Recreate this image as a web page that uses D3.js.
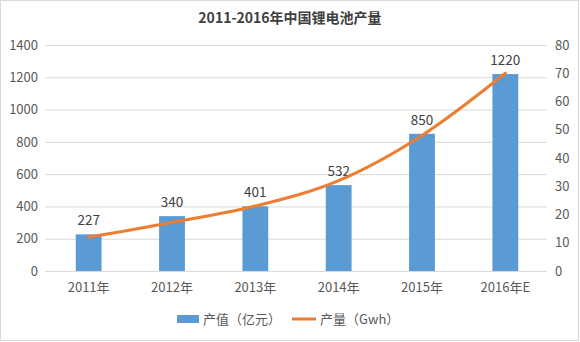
<!DOCTYPE html>
<html><head><meta charset="utf-8">
<script src="https://cdn.jsdelivr.net/npm/d3@7"></script>
<style>body{margin:0;background:#fff}svg{display:block}text{font-family:"Noto Sans CJK SC","Microsoft YaHei",sans-serif}</style>
</head><body><svg id="c" width="580" height="342"></svg>
<script>
const categories = ["2011年","2012年","2013年","2014年","2015年","2016年E"];
const valueSeries = [227, 340, 401, 532, 850, 1220];
const outputSeries = [12, 17.2, 23, 32, 48, 70];
const leftTicks = [0,200,400,600,800,1000,1200,1400];
const rightTicks = [0,10,20,30,40,50,60,70,80];
const titleText = "2011-2016年中国锂电池产量";
const legendLabels = ["产值（亿元）","产量（Gwh）"];

(function(){
const svg = d3.select("#c");
const W = 580, H = 342;
const pL = 45, pR = 547, pT = 45, pB = 271;
const txt = "#595959";

svg.append("rect").attr("x",0.5).attr("y",0.5).attr("width",W-2).attr("height",H-2)
  .attr("fill","#fff").attr("stroke","#d9d9d9");

const x = d3.scaleBand().domain(categories).range([47,547]).paddingInner(0.69).paddingOuter(0.345);
const y = d3.scaleLinear().domain([0,1400]).range([pB,pT]);
const y2 = d3.scaleLinear().domain([0,80]).range([pB,pT]);

svg.append("g").selectAll("line").data(leftTicks).join("line")
  .attr("x1",pL).attr("x2",pR).attr("y1",d=>y(d)+0.5).attr("y2",d=>y(d)+0.5)
  .attr("stroke","#d9d9d9").attr("stroke-width",1);

const la = svg.append("g").attr("transform",`translate(${pL},0)`)
  .call(d3.axisLeft(y).tickValues(leftTicks).tickFormat(d3.format("d")).tickSize(0).tickPadding(7));
la.select(".domain").remove();
la.selectAll("text").attr("fill",txt).attr("font-size",13);

const ra = svg.append("g").attr("transform",`translate(${pR},0)`)
  .call(d3.axisRight(y2).tickValues(rightTicks).tickFormat(d3.format("d")).tickSize(0).tickPadding(8));
ra.select(".domain").remove();
ra.selectAll("text").attr("fill",txt).attr("font-size",13);

const xa = svg.append("g").attr("transform",`translate(0,${pB})`)
  .call(d3.axisBottom(x).tickSize(0).tickPadding(12));
xa.select(".domain").remove();
xa.selectAll("text").attr("fill",txt).attr("font-size",13);

svg.append("g").selectAll("rect").data(valueSeries).join("rect")
  .attr("x",(d,i)=>x(categories[i])).attr("width",x.bandwidth())
  .attr("y",d=>y(d)).attr("height",d=>y(0)-y(d)).attr("fill","#5B9BD5");

svg.append("g").selectAll("text").data(valueSeries).join("text")
  .attr("x",(d,i)=>x(categories[i])+x.bandwidth()/2).attr("y",d=>y(d)-9)
  .attr("text-anchor","middle").attr("font-size",13.5).attr("fill","#404040").text(d=>d);

const line = d3.line().x((d,i)=>x(categories[i])+x.bandwidth()/2).y(d=>y2(d)).curve(d3.curveMonotoneX);
svg.append("path").datum(outputSeries).attr("d",line).attr("fill","none")
  .attr("stroke","#ED7D31").attr("stroke-width",3).attr("stroke-linecap","round");

svg.append("text").attr("x",290).attr("y",23).attr("text-anchor","middle")
  .attr("font-size",14).attr("font-weight","bold").attr("fill","#404040").text(titleText);

const lg = svg.append("g");
lg.append("rect").attr("x",177).attr("y",315).attr("width",22).attr("height",8).attr("fill","#5B9BD5");
lg.append("text").attr("x",203).attr("y",324).attr("font-size",13).attr("fill",txt).text(legendLabels[0]);
lg.append("line").attr("x1",292).attr("x2",316).attr("y1",319).attr("y2",319).attr("stroke","#ED7D31").attr("stroke-width",3);
lg.append("text").attr("x",320).attr("y",324).attr("font-size",13).attr("fill",txt).text(legendLabels[1]);
})();
</script></body></html>
